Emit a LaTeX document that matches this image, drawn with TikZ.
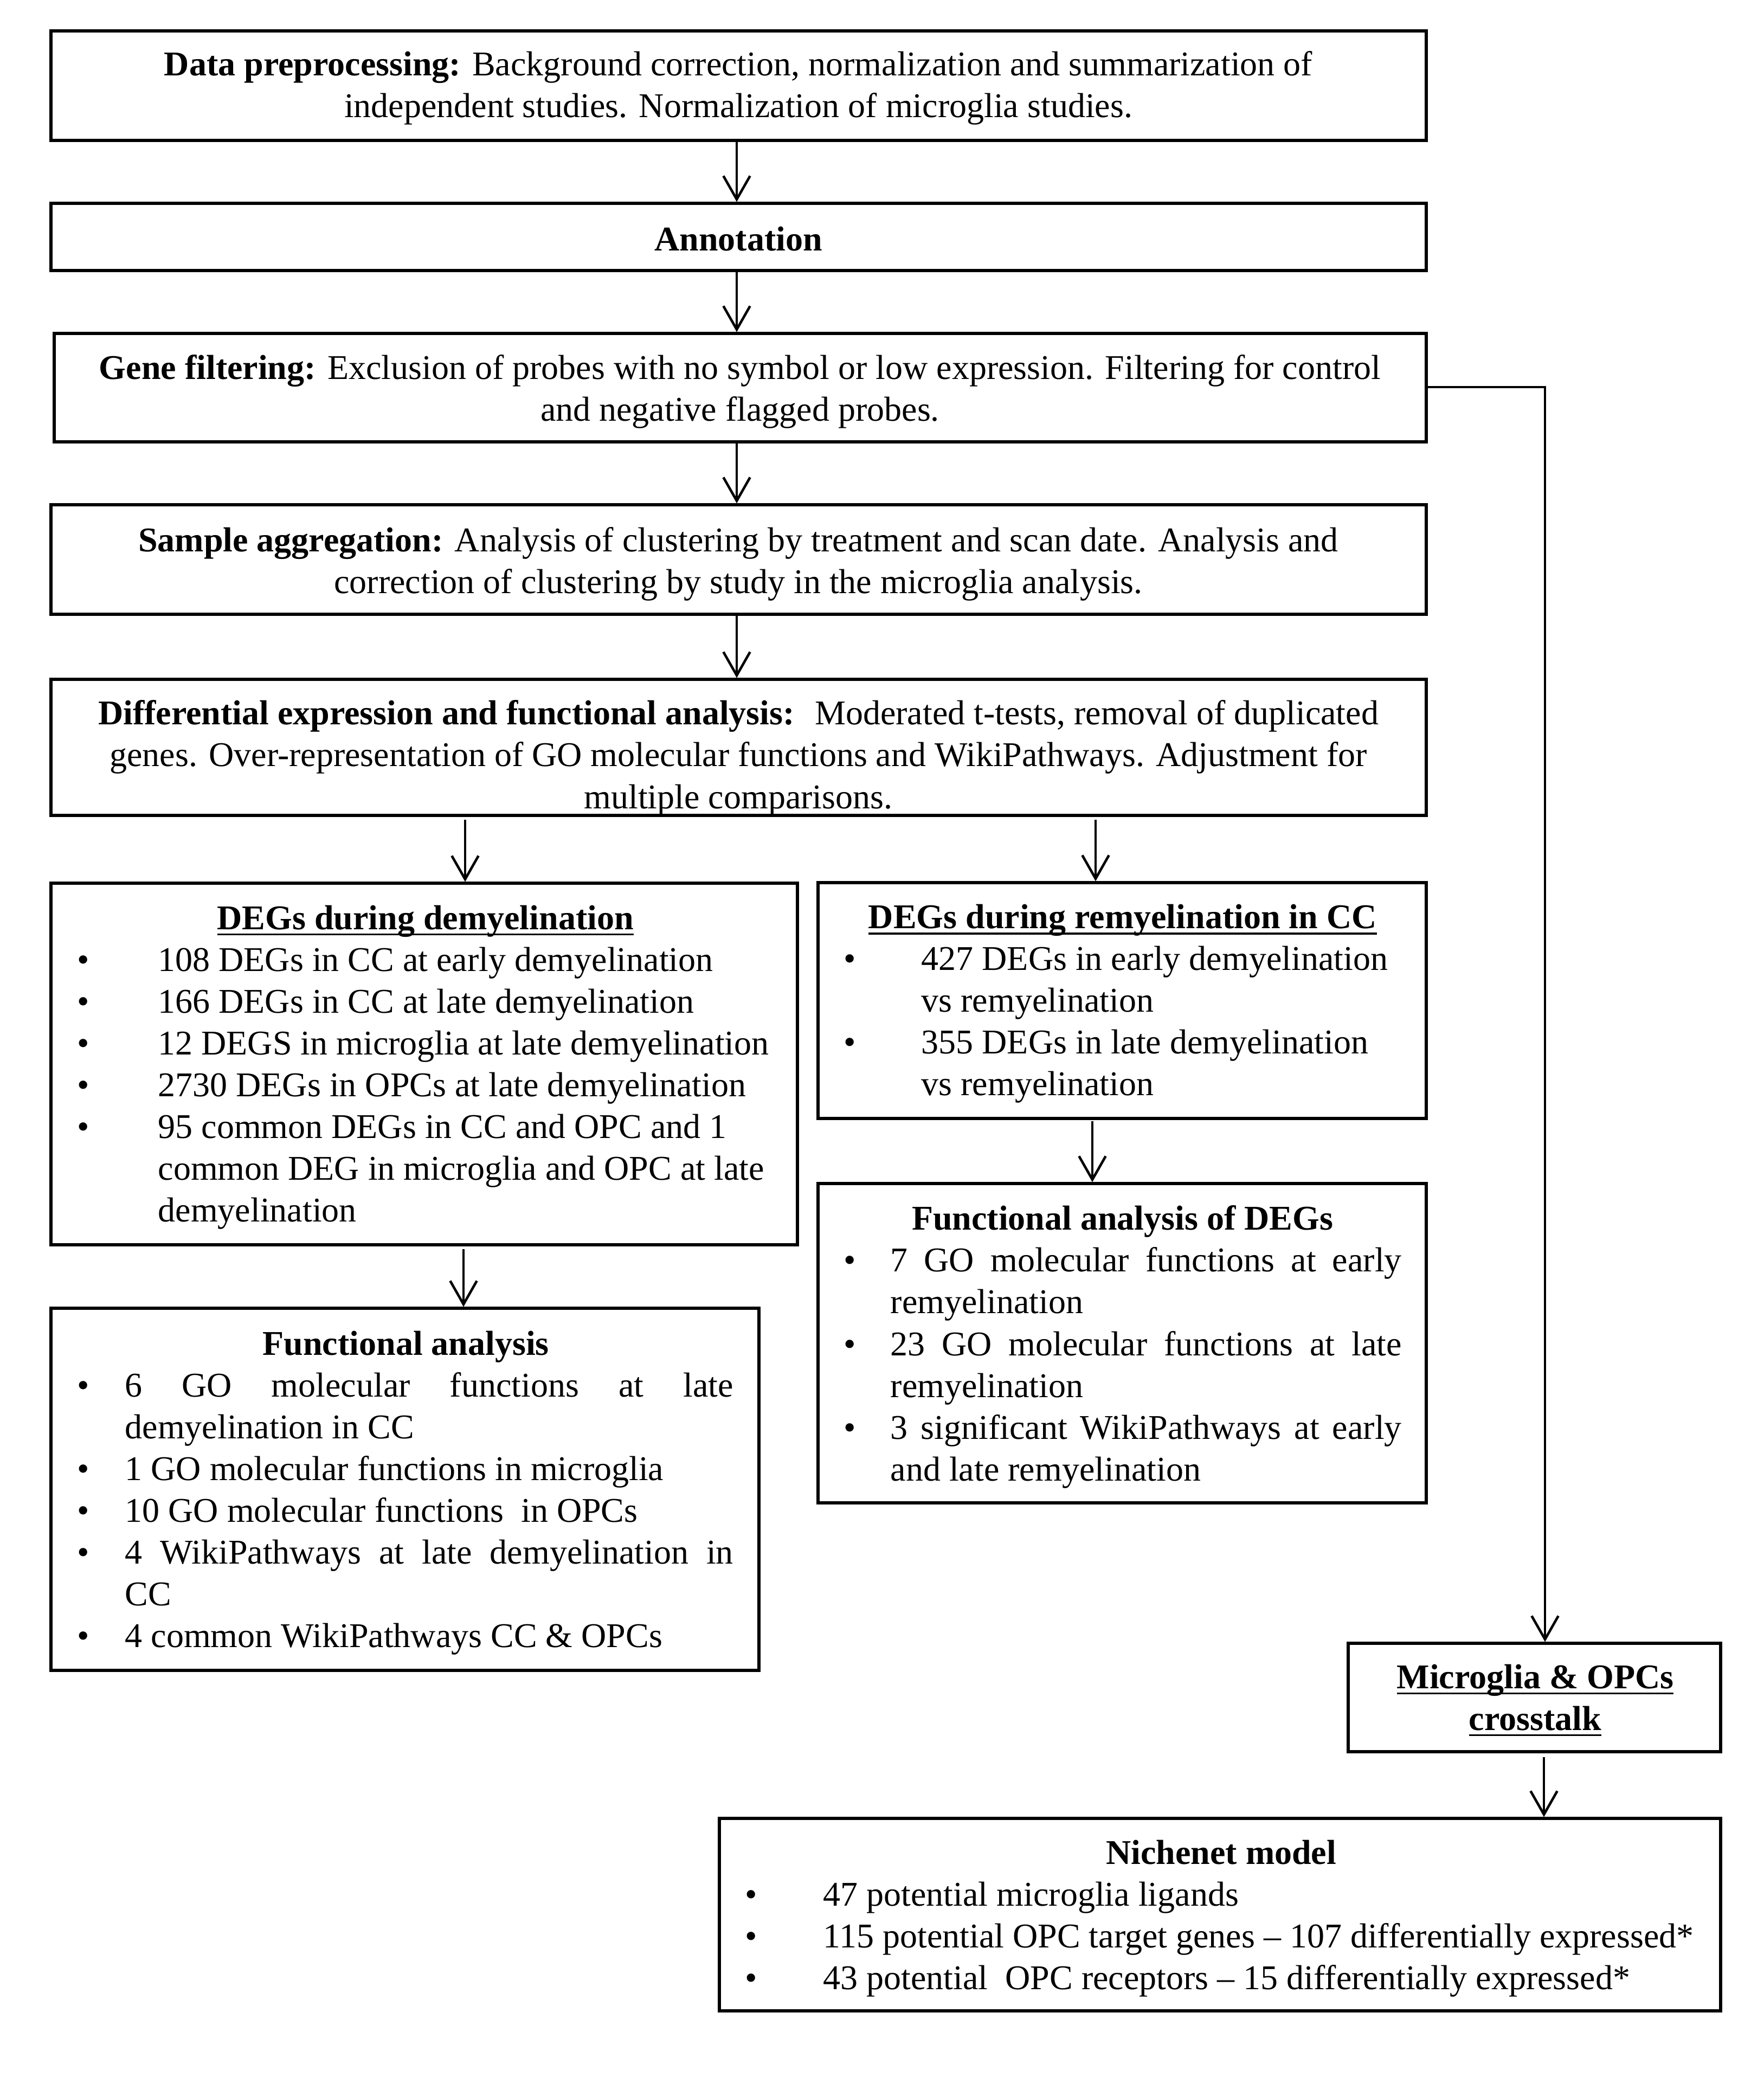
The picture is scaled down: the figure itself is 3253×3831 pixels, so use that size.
\documentclass[tikz,border=0pt]{standalone}
\usepackage{fontspec}
\setmainfont{Liberation Serif}
\usetikzlibrary{arrows.meta,fit}
\newlength\px \setlength\px{0.01cm}
\newcommand\bl[2]{\makebox[#1][l]{\textbullet}#2}
\newcommand\cl[2]{\hspace*{#1}#2}
\newcommand\jl[2]{\makebox[#1][s]{#2}}
\newcommand\ul[1]{\setbox0\hbox{#1}\rlap{\rule[-3.1pt]{\wd0}{1pt}}\box0}
\tikzset{
 box/.style={draw, line width=1.5pt, inner sep=0pt},
 txt/.style={inner sep=0pt, font=\fontsize{18.2}{21.9}\selectfont, execute at begin node=\strut, execute at end node=\strut},
 ctxt/.style={txt, align=center},
 ltxt/.style={txt, align=left, anchor=west},
 arr/.style={line width=1.1pt, -{Straight Barb[length=12.3pt,width=14pt,line width=1.3pt]}},
}
\begin{document}
\begin{tikzpicture}[x=0.01cm,y=-0.01cm]
\fill[white] (0,0) rectangle (3253,3831);
\useasboundingbox (0,0) rectangle (3253,3831);
% boxes
\node[box, fit={(94,57) (2631,259)}] (b1) {};
\node[box, fit={(94,375) (2631,499)}] (b2) {};
\node[box, fit={(100,615) (2631,815)}] (b3) {};
\node[box, fit={(94,931) (2631,1133)}] (b4) {};
\node[box, fit={(94,1253) (2631,1504)}] (b5) {};
\node[box, fit={(94,1629) (1471,2296)}] (b6) {};
\node[box, fit={(1509,1628) (2631,2063)}] (b7) {};
\node[box, fit={(1509,2183) (2631,2772)}] (b8) {};
\node[box, fit={(94,2413) (1400,3081)}] (b9) {};
\node[box, fit={(2487,3031) (3174,3231)}] (b10) {};
\node[box, fit={(1327,3354) (3174,3709)}] (b11) {};
% texts
\node[ctxt] (t1) at (1362,167) {\textbf{Data preprocessing:} Background correction, normalization and summarization of\\ independent studies. Normalization of microglia studies.};
\node[ctxt] (t2) at (1362,447) {\textbf{Annotation}};
\node[ctxt] (t3) at (1365,727) {\textbf{Gene filtering:} Exclusion of probes with no symbol or low expression. Filtering for control\\ and negative flagged probes.};
\node[ctxt] (t4) at (1362,1045) {\textbf{Sample aggregation:} Analysis of clustering by treatment and scan date. Analysis and\\ correction of clustering by study in the microglia analysis.};
\node[ctxt] (t5) at (1362,1403) {\textbf{Differential expression and functional analysis:}~ Moderated t-tests, removal of duplicated\\ genes. Over-representation of GO molecular functions and WikiPathways. Adjustment for\\ multiple comparisons.};
\node[ltxt] (t6) at (142,1973) {\makebox[1284\px]{\textbf{\ul{DEGs during demyelination}}}\\
\bl{149\px}{108 DEGs in CC at early demyelination}\\
\bl{149\px}{166 DEGs in CC at late demyelination}\\
\bl{149\px}{12 DEGS in microglia at late demyelination}\\
\bl{149\px}{2730 DEGs in OPCs at late demyelination}\\
\bl{149\px}{95 common DEGs in CC and OPC and 1}\\
\cl{149\px}{common DEG in microglia and OPC at late}\\
\cl{149\px}{demyelination}};
\node[ltxt] (t7) at (1556,1856) {\makebox[1028\px]{\textbf{\ul{DEGs during remyelination in CC}}}\\
\bl{143\px}{427 DEGs in early demyelination}\\
\cl{143\px}{vs remyelination}\\
\bl{143\px}{355 DEGs in late demyelination}\\
\cl{143\px}{vs remyelination}};
\node[ltxt] (t8) at (1556,2489) {\makebox[1028\px]{\textbf{Functional analysis of DEGs}}\\
\bl{86\px}{\jl{943\px}{7 GO molecular functions at early}}\\
\cl{86\px}{remyelination}\\
\bl{86\px}{\jl{943\px}{23 GO molecular functions at late}}\\
\cl{86\px}{remyelination}\\
\bl{86\px}{\jl{943\px}{3 significant WikiPathways at early}}\\
\cl{86\px}{and late remyelination}};
\node[ltxt] (t9) at (142,2758) {\makebox[1212\px]{\textbf{Functional analysis}}\\
\bl{88\px}{\jl{1122\px}{6 GO molecular functions at late}}\\
\cl{88\px}{demyelination in CC}\\
\bl{88\px}{1 GO molecular functions in microglia}\\
\bl{88\px}{10 GO molecular functions~ in OPCs}\\
\bl{88\px}{\jl{1122\px}{4 WikiPathways at late demyelination in}}\\
\cl{88\px}{CC}\\
\bl{88\px}{4 common WikiPathways CC \& OPCs}};
\node[ctxt] (t10) at (2832,3142) {\textbf{\ul{Microglia \& OPCs}}\\ \textbf{\ul{crosstalk}}};
\node[ltxt] (t11) at (1374,3543) {\makebox[1756\px]{\textbf{Nichenet model}}\\
\bl{144\px}{47 potential microglia ligands}\\
\bl{144\px}{115 potential OPC target genes -- 107 differentially expressed*}\\
\bl{144\px}{43 potential~ OPC receptors -- 15 differentially expressed*}};
% connectors
\coordinate (m1) at (1359,259);
\draw[arr] (m1) -- (m1 |- b2.north);
\draw[arr] (m1 |- b2.south) -- (m1 |- b3.north);
\draw[arr] (m1 |- b3.south) -- (m1 |- b4.north);
\draw[arr] (m1 |- b4.south) -- (m1 |- b5.north);
\coordinate (a56) at (858,1512);
\draw[arr] (a56) -- (a56 |- b6.north);
\coordinate (a57) at (2021,1512);
\draw[arr] (a57) -- (a57 |- b7.north);
\coordinate (a78) at (2015,2068);
\draw[arr] (a78) -- (a78 |- b8.north);
\coordinate (a69) at (855,2304);
\draw[arr] (a69) -- (a69 |- b9.north);
\coordinate (a1011) at (2848,3241);
\draw[arr] (a1011) -- (a1011 |- b11.north);
\coordinate (cr) at (2850,714);
\draw[arr] (b3.east |- cr) -- (cr) -- (cr |- b10.north);
\end{tikzpicture}
\end{document}
